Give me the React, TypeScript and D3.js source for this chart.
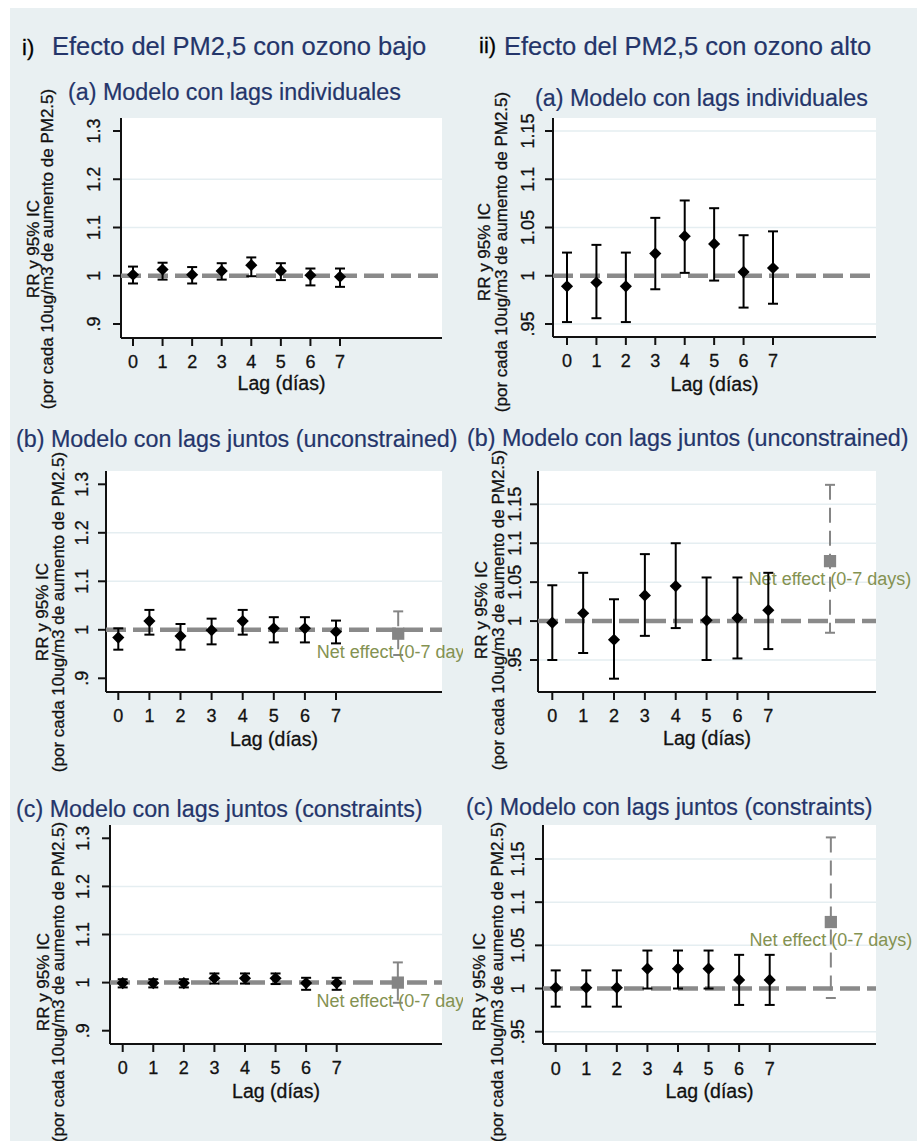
import React from 'react';
import * as d3 from 'd3';

const W = 919;
const H = 1141;
const FONT = '"Liberation Sans", Arial, Helvetica, sans-serif';

const lags = [0, 1, 2, 3, 4, 5, 6, 7];
const netLag = 9;
const netLabel = 'Net effect (0-7 days)';

const yTicksLow = [0.9, 1, 1.1, 1.2, 1.3];
const yTicksHigh = [0.95, 1, 1.05, 1.1, 1.15];

// i) ozono bajo
const lowA_rr = [1.002, 1.013, 1.002, 1.010, 1.022, 1.010, 1.001, 0.998];
const lowA_lo = [0.984, 0.992, 0.984, 0.992, 0.999, 0.991, 0.980, 0.977];
const lowA_hi = [1.019, 1.027, 1.018, 1.026, 1.038, 1.026, 1.015, 1.015];

const lowB_rr = [0.984, 1.018, 0.987, 0.999, 1.018, 1.003, 1.003, 0.996];
const lowB_lo = [0.959, 0.990, 0.959, 0.970, 0.990, 0.974, 0.974, 0.972];
const lowB_hi = [1.003, 1.041, 1.012, 1.023, 1.041, 1.026, 1.026, 1.019];
const lowB_net = [0.992, 0.948, 1.038]; // rr, lo, hi

const lowC_rr = [0.999, 0.999, 0.999, 1.009, 1.009, 1.009, 0.999, 0.999];
const lowC_lo = [0.990, 0.990, 0.990, 0.998, 0.998, 0.997, 0.985, 0.985];
const lowC_hi = [1.007, 1.007, 1.007, 1.019, 1.019, 1.019, 1.010, 1.010];
const lowC_net = [1.000, 0.958, 1.042];

// ii) ozono alto
const highA_rr = [0.989, 0.993, 0.989, 1.023, 1.041, 1.033, 1.004, 1.008];
const highA_lo = [0.952, 0.956, 0.952, 0.986, 1.003, 0.995, 0.967, 0.971];
const highA_hi = [1.024, 1.032, 1.024, 1.060, 1.078, 1.070, 1.042, 1.046];

const highB_rr = [0.998, 1.010, 0.976, 1.033, 1.045, 1.001, 1.004, 1.014];
const highB_lo = [0.950, 0.959, 0.926, 0.981, 0.991, 0.950, 0.952, 0.964];
const highB_hi = [1.046, 1.062, 1.028, 1.086, 1.100, 1.056, 1.056, 1.062];
const highB_net = [1.077, 0.985, 1.175];

const highC_rr = [1.001, 1.001, 1.001, 1.023, 1.023, 1.023, 1.010, 1.010];
const highC_lo = [0.979, 0.979, 0.979, 1.000, 1.000, 1.000, 0.981, 0.981];
const highC_hi = [1.021, 1.021, 1.021, 1.044, 1.044, 1.044, 1.039, 1.039];
const highC_net = [1.077, 0.989, 1.175];

const subA = '(a) Modelo con lags individuales';
const subB = '(b) Modelo con lags juntos (unconstrained)';
const subC = '(c) Modelo con lags juntos (constraints)';
const yTitle1 = 'RR y 95% IC';
const yTitle2 = '(por cada 10ug/m3 de aumento de PM2.5)';
const xTitle = 'Lag (días)';

const C = {
  bg: '#e9f0f2',
  grid: '#e5eef1',
  title: '#24356a',
  axis: '#111',
  ref: '#8a8a8a',
  net: '#858585',
  netText: '#849251',
};

const fmt = (v: number) => String(+v.toFixed(2)).replace(/^0\./, '.');

// slightly heavier text, the reference is rendered with a bolder smoothing
const ink = { fill: '#111', stroke: '#111', strokeWidth: 0.3 };

function Panel({ cfg, rr, lo, hi, net, ticks, grid, id }: any) {
  const [px0, px1, py0, py1] = cfg.plot;
  const x = d3.scaleLinear().domain([0, 7]).range([cfg.x0, cfg.x7]);
  const y = d3.scaleLinear().domain([ticks[0], ticks[ticks.length - 1]]).range(cfg.yPx);
  const diamond = d3.symbol(d3.symbolSquare, 74)();
  const square = d3.symbol(d3.symbolSquare, 150)();
  const cap = 5;

  return (
    <g clipPath={`url(#clip-${id})`}>
      <clipPath id={`clip-${id}`}>
        <rect x={cfg.clip[0]} y={0} width={cfg.clip[1] - cfg.clip[0]} height={H} />
      </clipPath>

      <text x={cfg.sub[0]} y={cfg.sub[1]} fontSize={23.3} fill={C.title} stroke={C.title} strokeWidth={0.2}>
        {cfg.subText}
      </text>

      <rect x={px0} y={py0} width={px1 - px0} height={py1 - py0} fill="#fff" />
      {grid.map((g: number) => (
        <line key={g} x1={px0} x2={px1} y1={y(g)} y2={y(g)} stroke={C.grid} strokeWidth={1.5} />
      ))}

      {/* y axis */}
      <line x1={px0} x2={px0} y1={py0} y2={py1} stroke={C.axis} strokeWidth={2} />
      {ticks.map((t: number) => (
        <g key={t}>
          <line x1={px0 - 8} x2={px0} y1={y(t)} y2={y(t)} stroke={C.axis} strokeWidth={2} />
          <text transform={`translate(${cfg.tickLabX + 6.5},${y(t)}) rotate(-90)`} textAnchor="middle"
            fontSize={18} {...ink}>{fmt(t)}</text>
        </g>
      ))}
      <text transform={`translate(${cfg.titleX[0] + 6},${cfg.titleY}) rotate(-90)`} textAnchor="middle"
        fontSize={17} {...ink}>{yTitle1}</text>
      <text transform={`translate(${cfg.titleX[1] + 6},${cfg.titleY}) rotate(-90)`} textAnchor="middle"
        fontSize={17} {...ink}>{yTitle2}</text>

      {/* x axis */}
      <line x1={px0} x2={px1} y1={py1} y2={py1} stroke={C.axis} strokeWidth={2} />
      {lags.map((l) => (
        <g key={l}>
          <line x1={x(l)} x2={x(l)} y1={py1} y2={py1 + 8} stroke={C.axis} strokeWidth={2} />
          <text x={x(l)} y={cfg.xTickBase - 1.5} textAnchor="middle" fontSize={18} {...ink}>{l}</text>
        </g>
      ))}
      <text x={(px0 + px1) / 2} y={cfg.xTitleBase + 2.5} textAnchor="middle" fontSize={19.5} {...ink}>{xTitle}</text>

      {/* reference line at RR = 1 */}
      <line x1={px0} x2={px1} y1={y(1)} y2={y(1)} stroke={C.ref} strokeWidth={4.5} strokeDasharray="20,7" />

      {/* net effect */}
      {net && (
        <g>
          <line x1={x(netLag)} x2={x(netLag)} y1={y(net[2])} y2={y(net[1])} stroke={C.net} strokeWidth={2}
            strokeDasharray="15,8" />
          <line x1={x(netLag) - cap} x2={x(netLag) + cap} y1={y(net[2])} y2={y(net[2])} stroke={C.net} strokeWidth={2} />
          <line x1={x(netLag) - cap} x2={x(netLag) + cap} y1={y(net[1])} y2={y(net[1])} stroke={C.net} strokeWidth={2} />
          <path d={square!} transform={`translate(${x(netLag)},${y(net[0])})`} fill={C.net} />
          <text x={x(netLag)} y={y(net[0]) + 24} textAnchor="middle" fontSize={18} fill={C.netText}>{netLabel}</text>
        </g>
      )}

      {/* estimates with 95% CI */}
      {lags.map((l, i) => (
        <g key={l}>
          <line x1={x(l)} x2={x(l)} y1={y(hi[i])} y2={y(lo[i])} stroke="#000" strokeWidth={2} />
          <line x1={x(l) - cap} x2={x(l) + cap} y1={y(hi[i])} y2={y(hi[i])} stroke="#000" strokeWidth={2} />
          <line x1={x(l) - cap} x2={x(l) + cap} y1={y(lo[i])} y2={y(lo[i])} stroke="#000" strokeWidth={2} />
          <path d={diamond!} transform={`translate(${x(l)},${y(rr[i])}) rotate(45)`} fill="#000" />
        </g>
      ))}
    </g>
  );
}

const layouts: any = {
  ia: { plot: [121, 442, 118, 338], x0: 133, x7: 340, yPx: [324, 131], tickLabX: 93, titleX: [33, 47], titleY: 249,
    xTickBase: 369, xTitleBase: 387, sub: [68, 100], subText: subA, clip: [0, 463] },
  ib: { plot: [106, 442, 471, 692], x0: 118.3, x7: 336, yPx: [678.3, 484.3], tickLabX: 81, titleX: [42, 58], titleY: 612,
    xTickBase: 723, xTitleBase: 743, sub: [16, 446.7], subText: subB, clip: [0, 463] },
  ic: { plot: [110, 442, 825, 1044], x0: 122.7, x7: 336.7, yPx: [1030.7, 838.3], tickLabX: 82, titleX: [43, 58], titleY: 982,
    xTickBase: 1075, xTitleBase: 1095, sub: [16, 817], subText: subC, clip: [0, 463] },
  iia: { plot: [553, 876, 118, 337], x0: 567, x7: 773, yPx: [324, 131], tickLabX: 527, titleX: [484, 501], titleY: 252,
    xTickBase: 368, xTitleBase: 388, sub: [535, 106], subText: subA, clip: [459, 919] },
  iib: { plot: [538, 876, 471, 692], x0: 552.3, x7: 768.3, yPx: [660, 504.3], tickLabX: 514, titleX: [481, 498], titleY: 610,
    xTickBase: 723, xTitleBase: 742, sub: [467, 446], subText: subB, clip: [459, 919] },
  iic: { plot: [543, 876, 825, 1044], x0: 555.7, x7: 769.7, yPx: [1031.7, 859], tickLabX: 517, titleX: [479, 497], titleY: 982,
    xTickBase: 1076, xTitleBase: 1095, sub: [466, 815], subText: subC, clip: [459, 919] },
};

export default function App() {
  return (
    <div style={{ width: W, height: H }}>
      <style>{'body{margin:0}'}</style>
      <svg width={W} height={H} style={{ display: 'block', fontFamily: FONT }}>
        <rect width={W} height={H} fill="#fff" />
        <rect x={10} y={8} width={907} height={H - 8} fill={C.bg} />

        <text x={22} y={55} fontSize={22} {...ink} fill="#000">i)</text>
        <text x={52} y={55} fontSize={25.5} fill={C.title} stroke={C.title} strokeWidth={0.2}>
          Efecto del PM2,5 con ozono bajo
        </text>
        <text x={479} y={53} fontSize={22} {...ink} fill="#000">ii)</text>
        <text x={504} y={55} fontSize={25.5} fill={C.title} stroke={C.title} strokeWidth={0.2}>
          Efecto del PM2,5 con ozono alto
        </text>

        <Panel id="iia" cfg={layouts.iia} rr={highA_rr} lo={highA_lo} hi={highA_hi} ticks={yTicksHigh}
          grid={[0.95, 1.05, 1.1, 1.15]} />
        <Panel id="iib" cfg={layouts.iib} rr={highB_rr} lo={highB_lo} hi={highB_hi} net={highB_net} ticks={yTicksHigh}
          grid={[0.95, 1.05, 1.1, 1.15]} />
        <Panel id="iic" cfg={layouts.iic} rr={highC_rr} lo={highC_lo} hi={highC_hi} net={highC_net} ticks={yTicksHigh}
          grid={[0.95, 1.05, 1.1, 1.15]} />
        <Panel id="ia" cfg={layouts.ia} rr={lowA_rr} lo={lowA_lo} hi={lowA_hi} ticks={yTicksLow} grid={[1.1, 1.2]} />
        <Panel id="ib" cfg={layouts.ib} rr={lowB_rr} lo={lowB_lo} hi={lowB_hi} net={lowB_net} ticks={yTicksLow}
          grid={[1.1, 1.2]} />
        <Panel id="ic" cfg={layouts.ic} rr={lowC_rr} lo={lowC_lo} hi={lowC_hi} net={lowC_net} ticks={yTicksLow}
          grid={[1.1, 1.2]} />
      </svg>
    </div>
  );
}
